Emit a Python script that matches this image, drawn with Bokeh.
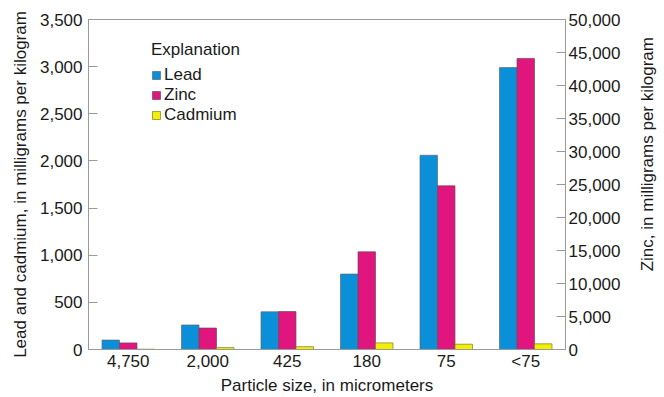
import math
from bokeh.plotting import figure
from bokeh.layouts import row
from bokeh.models import (FactorRange, Range1d, LinearAxis, FixedTicker,
                          NumeralTickFormatter, Legend, LegendItem,
                          ColumnDataSource)
from bokeh.core.properties import value
from bokeh.transform import dodge
from bokeh.embed import file_html
from bokeh.resources import INLINE

# ---- data ----
sizes = ["4,750", "2,000", "425", "180", "75", "<75"]
lead = [100, 260, 400, 800, 2060, 2990]
zinc = [1000, 3250, 5750, 14800, 24800, 44100]
cadmium = [3, 20, 30, 70, 56, 60]
left_ticks = [0, 500, 1000, 1500, 2000, 2500, 3000, 3500]
right_ticks = [0, 5000, 10000, 15000, 20000, 25000, 30000, 35000, 40000, 45000, 50000]
zinc_title = "Zinc, in milligrams per kilogram"

FONT = "Liberation Sans"
TXT = "#1a1a1a"
GRAY = "#9a9a9a"
FS = "17px"

src = ColumnDataSource(dict(size=sizes, lead=lead, zinc=zinc, cadmium=cadmium))

p = figure(width=632, height=397, x_range=FactorRange(*sizes, range_padding=0),
           y_range=Range1d(0, 3500), output_backend="svg", toolbar_location=None,
           min_border_left=88, min_border_right=67, min_border_top=19,
           min_border_bottom=46)
p.extra_y_ranges = {"zinc": Range1d(0, 50000)}

p.xgrid.visible = False
p.ygrid.visible = False
p.outline_line_color = GRAY
p.outline_line_width = 1
p.background_fill_color = "white"
p.border_fill_color = "white"

bw = 0.22
r_lead = p.vbar(x=dodge("size", -0.22, range=p.x_range), top="lead", width=bw,
                source=src, fill_color="#0a8fd8", line_color="#5a6a78", line_width=0.7)
r_zinc = p.vbar(x=dodge("size", 0.0, range=p.x_range), top="zinc", width=bw,
                source=src, y_range_name="zinc", fill_color="#e0157e",
                line_color="#6a4a5a", line_width=0.7)
r_cad = p.vbar(x=dodge("size", 0.22, range=p.x_range), top="cadmium", width=bw,
               source=src, fill_color="#f2f000", line_color="#7a7a30", line_width=0.7)

# left axis
ya = p.yaxis[0]
ya.ticker = FixedTicker(ticks=left_ticks)
ya.formatter = NumeralTickFormatter(format="0,0")
ya.axis_label = "Lead and cadmium, in milligrams per kilogram"
ya.axis_label_text_font = FONT
ya.axis_label_text_font_size = FS
ya.axis_label_text_font_style = "normal"
ya.axis_label_text_color = TXT
ya.axis_label_standoff = 7
ya.major_label_text_font = FONT
ya.major_label_text_font_size = FS
ya.major_label_text_color = TXT
ya.major_label_standoff = 6
ya.major_tick_in = 9
ya.major_tick_out = 0
ya.minor_tick_line_color = None
ya.minor_tick_in = 0
ya.minor_tick_out = 0
ya.axis_line_color = GRAY
ya.major_tick_line_color = GRAY

# right axis
ra = LinearAxis(y_range_name="zinc", ticker=FixedTicker(ticks=right_ticks),
                formatter=NumeralTickFormatter(format="0,0"))
ra.major_label_text_font = FONT
ra.major_label_text_font_size = FS
ra.major_label_text_color = TXT
ra.major_label_standoff = 3
ra.major_tick_in = 9
ra.major_tick_out = 0
ra.minor_tick_line_color = None
ra.minor_tick_in = 0
ra.minor_tick_out = 0
ra.axis_line_color = GRAY
ra.major_tick_line_color = GRAY
p.add_layout(ra, "right")

# bottom axis
xa = p.xaxis[0]
xa.axis_label = "Particle size, in micrometers"
xa.axis_label_text_font = FONT
xa.axis_label_text_font_size = FS
xa.axis_label_text_font_style = "normal"
xa.axis_label_text_color = TXT
xa.axis_label_standoff = 2
xa.major_label_text_font = FONT
xa.major_label_text_font_size = FS
xa.major_label_text_color = TXT
xa.major_label_standoff = 2
xa.major_tick_line_color = None
xa.major_tick_in = 0
xa.major_tick_out = 0
xa.minor_tick_line_color = None
xa.axis_line_color = GRAY

legend = Legend(items=[LegendItem(label="Lead", renderers=[r_lead]),
                       LegendItem(label="Zinc", renderers=[r_zinc]),
                       LegendItem(label="Cadmium", renderers=[r_cad])],
                location=(63, 224), title="Explanation")
legend.title_text_font = FONT
legend.title_text_font_size = FS
legend.title_text_font_style = "normal"
legend.title_text_color = TXT
legend.title_standoff = 5
legend.label_text_font = FONT
legend.label_text_font_size = FS
legend.label_text_color = TXT
legend.glyph_width = 10
legend.glyph_height = 10
legend.label_standoff = 3
legend.label_height = 18
legend.spacing = 0
legend.padding = 0
legend.margin = 0
legend.border_line_color = None
legend.background_fill_alpha = 0
p.add_layout(legend)

# narrow strip on the right holding the zinc axis title (reads bottom-to-top)
p2 = figure(width=32, height=397, x_range=Range1d(0, 32), y_range=Range1d(397, 0),
            output_backend="svg", toolbar_location=None,
            x_axis_location=None, y_axis_location=None,
            min_border_left=0, min_border_right=0, min_border_top=0,
            min_border_bottom=0)
p2.outline_line_color = None
p2.xgrid.visible = False
p2.ygrid.visible = False
p2.background_fill_color = "white"
p2.border_fill_color = "white"
p2.text(x=[15], y=[162], text=[zinc_title], angle=math.pi / 2,
        text_align="center", text_baseline="middle", text_font=value(FONT),
        text_font_size=FS, text_color=TXT)

layout = row(p, p2, spacing=0)
open("out.html", "w").write(file_html(layout, INLINE))
